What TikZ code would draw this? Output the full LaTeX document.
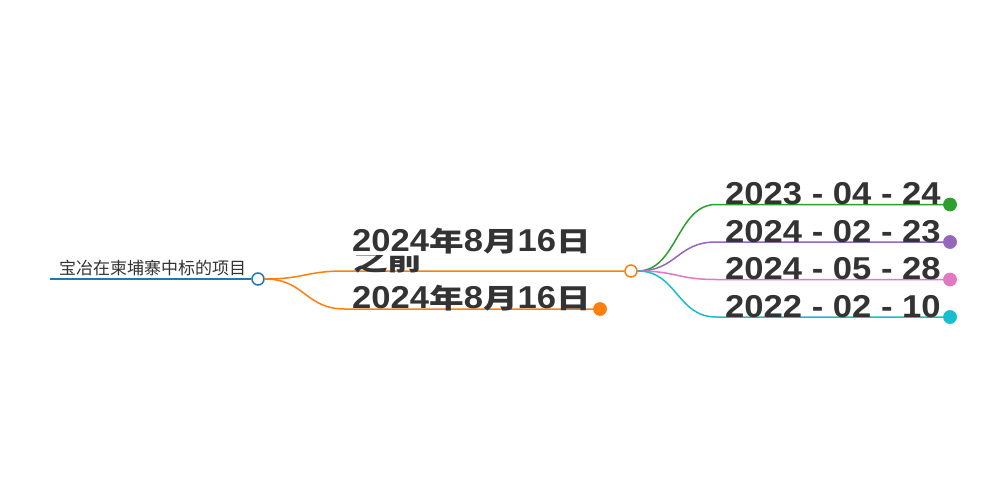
\documentclass[tikz,border=0pt]{standalone}
\usepackage{fontspec}
\setmainfont{Liberation Sans}
\newfontfamily\cjk{Noto Sans CJK SC}
\definecolor{mblue}{HTML}{1F77B4}
\definecolor{morange}{HTML}{FF7F0E}
\definecolor{mgreen}{HTML}{2CA02C}
\definecolor{mpurple}{HTML}{9467BD}
\definecolor{mpink}{HTML}{E377C2}
\definecolor{mcyan}{HTML}{17BECF}
\definecolor{mtext}{HTML}{333333}
\newcommand\dl[1]{\scalebox{1.018}[0.93]{\fontsize{34}{34}\selectfont\bfseries #1}}
\newcommand\cj[1]{{\cjk\scalebox{1}[0.86]{#1}}}
\tikzset{
  hollow/.style={circle, draw, fill=white, line width=1.5pt, minimum size=12pt, inner sep=0pt},
  leafdot/.style={circle, minimum size=13.5pt, inner sep=0pt},
  link/.style={line width=1.5pt},
  datelabel/.style={anchor=base west, inner sep=0pt, text=mtext},
  titlelabel/.style={anchor=base west, inner sep=0pt, text=mtext, font=\cjk\fontsize{17}{17}\selectfont}
}
\begin{document}
\begin{tikzpicture}[x=1pt,y=-1pt]
\useasboundingbox[fill=white] (0,0) rectangle (1000,500);
% root
\node[titlelabel] (title) at (59,274) {宝冶在柬埔寨中标的项目};
\coordinate (r0) at (50,279);
\node[hollow, draw=mblue] (c0) at (258,279) {};
\draw[mblue, line width=2pt] (r0) -- (c0.west);
% level 1
\node[hollow, draw=morange] (c1) at (631,271) {};
\node[leafdot, fill=morange] (d1) at (600,309) {};
\coordinate (u0) at (345,271);
\coordinate (l0) at (345,309);
\draw[morange, link] (c0.east) .. controls (305,279) and (305,271) .. (u0) -- (c1.west);
\draw[morange, link] (c0.east) .. controls (305,279) and (305,309) .. (l0) -- (d1.center);
\begin{scope}
\clip (340,255) rectangle (460,290);
\node[datelabel] (a2) at (353,270.5) {\dl{\cj{之前}}};
\end{scope}
\node[datelabel] (a1) at (352,251.5) {\dl{2024\cj{年}8\cj{月}16\cj{日}}};
\node[datelabel] (b1) at (352,308.5) {\dl{2024\cj{年}8\cj{月}16\cj{日}}};
% level 2
\node[leafdot, fill=mgreen] (g) at (950,204.5) {};
\node[leafdot, fill=mpurple] (p) at (950,242) {};
\node[leafdot, fill=mpink] (k) at (950,279.5) {};
\node[leafdot, fill=mcyan] (q) at (950,317) {};
\coordinate (g0) at (716,204.5);
\coordinate (p0) at (716,242);
\coordinate (k0) at (716,279.5);
\coordinate (q0) at (716,317);
\draw[mgreen, link] (c1.east) .. controls (677,271) and (677,204.5) .. (g0) -- (g.center);
\draw[mpurple, link] (c1.east) .. controls (677,271) and (677,242) .. (p0) -- (p.center);
\draw[mpink, link] (c1.east) .. controls (677,271) and (677,279.5) .. (k0) -- (k.center);
\draw[mcyan, link] (c1.east) .. controls (677,271) and (677,317) .. (q0) -- (q.center);
\node[leafdot, fill=mgreen] at (g) {};
\node[leafdot, fill=mpurple] at (p) {};
\node[leafdot, fill=mpink] at (k) {};
\node[leafdot, fill=mcyan] at (q) {};
\node[datelabel] (tg) at (725,204.5) {\dl{2023 - 04 - 24}};
\node[datelabel] (tp) at (725,242) {\dl{2024 - 02 - 23}};
\node[datelabel] (tk) at (725,279.5) {\dl{2024 - 05 - 28}};
\node[datelabel] (tq) at (725,317) {\dl{2022 - 02 - 10}};
\node[leafdot, fill=morange] at (d1) {};
\end{tikzpicture}
\end{document}
